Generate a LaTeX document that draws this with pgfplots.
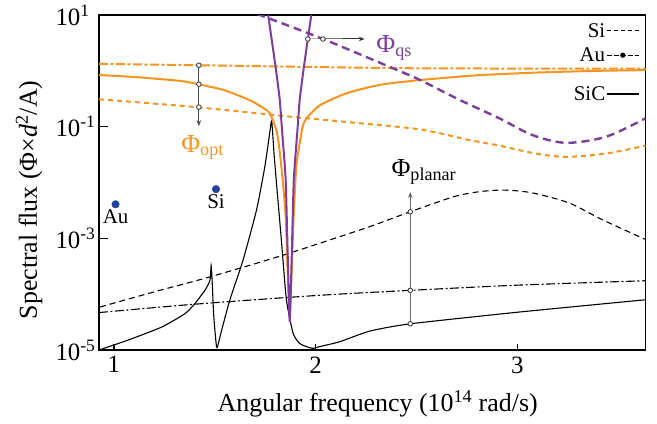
\documentclass[border=0pt]{standalone}
\usepackage{fontspec}
\setmainfont{Liberation Serif}
\usepackage{pgfplots}
\pgfplotsset{compat=1.18}
\usetikzlibrary{arrows.meta}

\definecolor{optorange}{RGB}{247,148,30}
\definecolor{qspurple}{RGB}{125,60,160}
\definecolor{dotblue}{RGB}{35,65,160}

\begin{document}
\begin{tikzpicture}
\path[use as bounding box] (-99bp,-74bp) rectangle (558bp,350bp);
\begin{axis}[
    at={(0,0)}, anchor=south west,
    scale only axis, width=546.5bp, height=335bp,
    ymode=log,
    xmin=0.926, xmax=3.635, ymin=1e-5, ymax=1e1,
    axis line style={line width=1.6bp},
    tick align=inside, xtick pos=bottom, ytick pos=left,
    xminorticks=false, yminorticks=false,
    xtick={1,2,3}, xticklabels={1,2,3},
    ytick={1e1,1e-1,1e-3,1e-5},
    yticklabels={10\textsuperscript{1},10\textsuperscript{-1},10\textsuperscript{-3},10\textsuperscript{-5}},
    major tick style={line width=1.2bp, black},
    xtick style={/pgfplots/major tick length=6bp},
    ytick style={/pgfplots/major tick length=9bp},
    ticklabel style={font=\fontsize{25}{30}\selectfont},
    xticklabel style={yshift=-3bp},
    yticklabel style={anchor=west, xshift=-47bp},
    xlabel={Angular frequency (10\textsuperscript{14} rad/s)},
    ylabel={Spectral flux (Φ×\textit{d}\textsuperscript{2}/A)},
    label style={font=\fontsize{26}{30}\selectfont},
    xlabel style={at={(axis description cs:0.51,-0.184)}, anchor=base},
    ylabel style={at={(axis description cs:-0.128,0.448)}, anchor=center},
    legend style={draw=none, fill=none, inner sep=0pt,
      at={(axis description cs:1,1)}, anchor=north east, xshift=-6bp, yshift=-7bp,
      font=\fontsize{21}{24}\selectfont, row sep=7bp,
      nodes={inner sep=1bp}},
    legend cell align=right,
    legend plot pos=right,
    legend image code/.code={\draw[mark repeat=2,mark phase=2,#1] plot coordinates {(0bp,0bp) (16bp,0bp) (32bp,0bp)};},
]

% planar fluxes (black)
\addplot[black, line width=1.1bp, dash pattern=on 6bp off 4bp, smooth, forget plot] coordinates {
  (0.931,5.89e-5) (1.2,1.10e-4) (1.476,2.04e-4) (1.822,4.79e-4) (2.119,1.07e-3)
  (2.268,1.62e-3) (2.469,2.99e-3) (2.68,5.50e-3) (2.8,6.76e-3) (2.911,7.31e-3)
  (3.0,7.08e-3) (3.093,6.31e-3) (3.258,4.27e-3) (3.423,2.14e-3) (3.635,9.55e-4)};
\addplot[black, line width=1.1bp, dash pattern=on 9bp off 2.5bp on 2bp off 2.5bp, smooth, forget plot] coordinates {
  (0.926,4.68e-5) (1.4,6.61e-5) (2.02,9.55e-5) (2.47,1.17e-4) (3.0,1.45e-4) (3.635,1.74e-4)};
\addplot[black, line width=1.1bp, smooth, tension=0.35, forget plot] coordinates {
  (0.926,1.0e-5) (1.071,1.51e-5) (1.236,2.57e-5) (1.352,4.47e-5) (1.401,6.76e-5)
  (1.451,1.17e-4) (1.476,1.78e-4) (1.482,3.24e-4) (1.486,2.0e-4) (1.495,3.98e-5)
  (1.509,1.12e-5) (1.52,1.41e-5) (1.53,2.0e-5) (1.575,7.94e-5) (1.64,4.07e-4)
  (1.707,3.24e-3) (1.748,1.91e-2) (1.772,7.59e-2) (1.782,0.126) (1.794,3.16e-2)
  (1.806,9.55e-3) (1.83,9.33e-4) (1.855,7.94e-5) (1.888,2.0e-5) (1.92,1.32e-5)
  (1.954,1.15e-5) (1.987,1.07e-5) (2.02,1.15e-5) (2.12,1.41e-5) (2.27,2.19e-5)
  (2.47,2.95e-5) (3.01,4.79e-5) (3.635,7.94e-5)};

% optimal fluxes (orange)
\addplot[optorange, line width=2bp, dash pattern=on 5bp off 4bp, smooth, forget plot] coordinates {
  (0.926,0.309) (1.376,0.229) (1.9,0.148) (2.2,0.117) (2.518,8.91e-2) (2.763,5.75e-2)
  (2.911,4.57e-2) (3.09,3.31e-2) (3.241,2.88e-2) (3.44,3.31e-2) (3.635,4.57e-2)};
\addplot[optorange, line width=2bp, dash pattern=on 9bp off 2.5bp on 3bp off 2.5bp, smooth, forget plot] coordinates {
  (0.926,1.33) (1.42,1.26) (2.0,1.17) (2.5,1.11) (3.0,1.10) (3.635,1.10)};
\addplot[optorange, line width=2bp, smooth, tension=0.4, forget plot] coordinates {
  (0.926,0.841) (1.1,0.776) (1.327,0.661) (1.421,0.575) (1.55,0.447) (1.67,0.302)
  (1.72,0.240) (1.772,0.174) (1.809,7.59e-2) (1.83,1.91e-2) (1.851,2.51e-3)
  (1.871,5.01e-5) (1.891,2.51e-3) (1.904,1.91e-2) (1.925,6.31e-2) (1.946,0.126)
  (2.02,0.240) (2.154,0.398) (2.32,0.562) (2.518,0.684) (2.8,0.832) (3.1,0.933)
  (3.4,1.0) (3.635,1.03)};

% quasi-static fluxes (purple)
\addplot[qspurple, line width=2.4bp, dash pattern=on 8bp off 5bp, smooth, forget plot] coordinates {
  (1.65,12.6) (1.724,10) (2.036,3.72) (2.381,1.12) (2.518,0.684) (2.713,0.302)
  (2.911,0.141) (3.074,7.08e-2) (3.241,5.13e-2) (3.44,6.61e-2) (3.635,0.141)};
\addplot[qspurple, line width=2bp, smooth, tension=0.3, forget plot] coordinates {
  (1.7465,28.2) (1.7645,10) (1.8015,1.17) (1.822,0.302) (1.8345,7.59e-2)
  (1.8515,1.10e-2) (1.863,3.09e-4) (1.8715,3.16e-5) (1.88,3.09e-4) (1.8915,1.10e-2)
  (1.9085,7.59e-2) (1.921,0.302) (1.9415,1.17) (1.9785,10) (1.9965,28.2)};

% blue points
\addplot[only marks, mark=*, mark size=3.8bp, dotblue, forget plot,
  nodes near coords, point meta=explicit symbolic,
  nodes near coords style={anchor=north, black, font=\fontsize{21}{24}\selectfont, yshift=-2bp}]
  coordinates {(1.008,4.07e-3)[Au] (1.506,7.59e-3)[Si]};

% annotation arrows
\addplot[black!70, line width=1bp, mark=*, mark size=2.3bp, mark indices={1,2,3},
  mark options={fill=white, draw=black!80, line width=0.8bp}, -{Stealth[length=6bp,width=4.5bp]}, forget plot]
  coordinates {(1.421,1.26) (1.421,0.575) (1.421,0.224) (1.421,0.102)};
\addplot[black!80, line width=1bp, mark=*, mark size=2.3bp, mark indices={1,2},
  mark options={fill=white, draw=black!80, line width=0.8bp}, -{Stealth[length=6bp,width=4.5bp]}, forget plot]
  coordinates {(1.961,3.72) (2.036,3.72) (2.243,3.72)};
\addplot[black!60, line width=1bp, mark=*, mark size=2.3bp, mark indices={1,2,3},
  mark options={fill=white, draw=black!80, line width=0.8bp}, -{Stealth[length=6bp,width=4.5bp]}, forget plot]
  coordinates {(2.469,2.95e-5) (2.469,1.17e-4) (2.469,2.99e-3) (2.469,6.76e-3)};

\node[optorange, anchor=base west, inner sep=0pt, font=\fontsize{26}{30}\selectfont]
  at (axis cs:1.333,0.0351) {Φ\textsubscript{opt}};
\node[qspurple, anchor=base west, inner sep=0pt, font=\fontsize{26}{30}\selectfont]
  at (axis cs:2.30,2.1) {Φ\textsubscript{qs}};
\node[black, anchor=base west, inner sep=0pt, font=\fontsize{26}{30}\selectfont]
  at (axis cs:2.375,0.0130) {Φ\textsubscript{planar}};

% legend
\addlegendimage{black, line width=1.1bp, dash pattern=on 4bp off 3bp}
\addlegendentry{Si}
\addlegendimage{black, line width=1.1bp, dash pattern=on 5bp off 2bp, mark=*, mark size=2bp, mark options={solid}}
\addlegendentry{Au}
\addlegendimage{empty legend}
\addlegendentry{\rule{0pt}{4bp}}
\addlegendimage{black, line width=1.1bp}
\addlegendentry{SiC}
\end{axis}
\end{tikzpicture}
\end{document}
